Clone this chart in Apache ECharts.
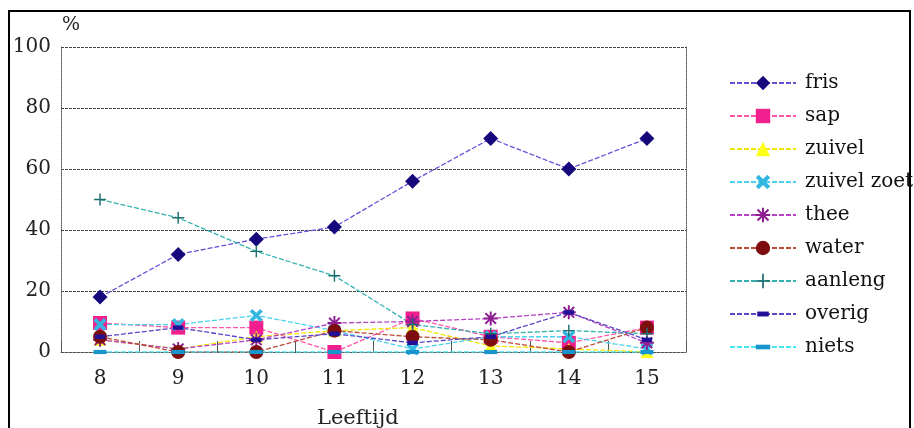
<!DOCTYPE html>
<html>
<head>
<meta charset="utf-8">
<script src="https://cdn.jsdelivr.net/npm/echarts@6/dist/echarts.min.js"></script>
<style>
  html, body { margin: 0; padding: 0; background: #fff; }
  #chart { width: 914px; height: 428px; }
</style>
</head>
<body>
<div id="chart"></div>
<script>
// Leeftijden (categorieën) en y-as
const leeftijden = ['8', '9', '10', '11', '12', '13', '14', '15'];
const yTicks = [0, 20, 40, 60, 80, 100];

// Percentages per drankcategorie
const fris       = [18, 32, 37, 41, 56, 70, 60, 70];
const sap        = [9.5, 8, 8, 0, 11, 5, 3, 8];
const zuivel     = [4, 1, 5, 7, 8, 2, 1, 0];
const zuivelZoet = [9, 9, 12, 7, 1, 5, 5, 1];
const thee       = [4, 1, 4, 9.5, 10, 11, 13, 3];
const water      = [5, 0, 0, 7, 5, 4, 0, 8];
const aanleng    = [50, 44, 33, 25, 9, 6, 7, 6];
const overig     = [5, 8, 4, 6, 3, 5, 13, 4];
const niets      = [0, 0, 0, 0, 0, 0, 0, 0];

const SERIF = '"DejaVu Serif", "Liberation Serif", serif';

// Markervormen
const symX = 'path://M2,0 L5,3 L8,0 L10,2 L7,5 L10,8 L8,10 L5,7 L2,10 L0,8 L3,5 L0,2 Z';
const symPlus = 'path://M4.4,0 H5.6 V4.4 H10 V5.6 H5.6 V10 H4.4 V5.6 H0 V4.4 H4.4 Z';
const symStar = 'path://M4.3,0 H5.7 V3.3 L8.3,0.7 L9.3,1.7 L6.7,4.3 H10 V5.7 H6.7 L9.3,8.3 L8.3,9.3 L5.7,6.7 V10 H4.3 V6.7 L1.7,9.3 L0.7,8.3 L3.3,5.7 H0 V4.3 H3.3 L0.7,1.7 L1.7,0.7 L4.3,3.3 Z';
// smal streepje binnen een vierkant vak (vak via losse moveTo-punten)
const symDash = 'path://M0,0 M10,10 M1,3.3 H9 V6.7 H1 Z';
const symBar = 'path://M0,0 M10,10 M0,3.4 H10 V6.6 H0 Z';

function lijn(name, data, lineColor, markColor, symbol, size) {
  return {
    name, type: 'line', data,
    symbol, symbolSize: size,
    showAllSymbol: true,
    lineStyle: { color: lineColor, width: 1.3, type: [5, 2] },
    itemStyle: { color: markColor, borderWidth: 0 },
    emphasis: { disabled: true },
    animation: false
  };
}

const series = [
  lijn('fris', fris, '#6a50d8', '#16087c', 'diamond', [15, 15]),
  lijn('sap', sap, '#ff55a8', '#f2208e', 'rect', [14, 14]),
  lijn('zuivel', zuivel, '#f2e600', '#ffff1a', 'triangle', [13, 12]),
  lijn('zuivel zoet', zuivelZoet, '#4dd2ee', '#33b6e0', symX, [13, 13]),
  lijn('thee', thee, '#b444c4', '#8e1e92', symStar, [14, 14]),
  lijn('water', water, '#bb4a38', '#7e0e0e', 'circle', [14, 14]),
  lijn('aanleng', aanleng, '#33b2b2', '#1c6f70', symPlus, [12, 12]),
  lijn('overig', overig, '#5a46c8', '#221098', symDash, [13, 13]),
  lijn('niets', niets, '#44e6f4', '#1696cc', symBar, [13, 13])
];

const chart = echarts.init(document.getElementById('chart'));
chart.setOption({
  backgroundColor: '#fff',
  animation: false,
  grid: { left: 61, right: 228, top: 47, bottom: 76 },
  xAxis: {
    type: 'category',
    data: leeftijden,
    boundaryGap: true,
    axisLine: { lineStyle: { color: '#555', type: 'dotted', width: 1 } },
    axisTick: { show: true, inside: true, length: 11, lineStyle: { color: '#555', width: 1 } },
    axisLabel: { fontFamily: SERIF, fontSize: 20, color: '#222', margin: 17 }
  },
  yAxis: [{
    type: 'value',
    min: yTicks[0], max: yTicks[yTicks.length - 1], interval: 20,
    axisLine: { show: true, lineStyle: { color: '#555', type: 'dotted', width: 1 } },
    axisTick: { show: false },
    axisLabel: { fontFamily: SERIF, fontSize: 20, color: '#222', margin: 10 },
    splitLine: { show: true, lineStyle: { color: '#444', type: [3, 1], width: 1 } }
  }, {
    type: 'value', position: 'right',
    min: 0, max: 100, interval: 20,
    axisLine: { show: true, lineStyle: { color: '#555', type: 'dotted', width: 1 } },
    axisTick: { show: false },
    axisLabel: { show: false },
    splitLine: { show: false }
  }],
  legend: {
    orient: 'vertical',
    left: 724, top: 68,
    itemWidth: 66, itemHeight: 18,
    itemGap: 13,
    textStyle: { fontFamily: SERIF, fontSize: 20, lineHeight: 20, color: '#111', padding: [0, 0, 0, 4] },
    selectedMode: false,
    data: series.map(s => s.name)
  },
  series,
  graphic: [
    { type: 'rect', shape: { x: 9, y: 11, width: 901, height: 440 },
      style: { fill: 'none', stroke: '#000', lineWidth: 2 }, silent: true },
    { type: 'text', left: 62, top: 16,
      style: { text: '%', font: '19px ' + SERIF, fill: '#222' } },
    { type: 'text', left: 317, top: 408,
      style: { text: 'Leeftijd', font: '21px ' + SERIF, fill: '#222' } }
  ]
});
</script>
</body>
</html>
